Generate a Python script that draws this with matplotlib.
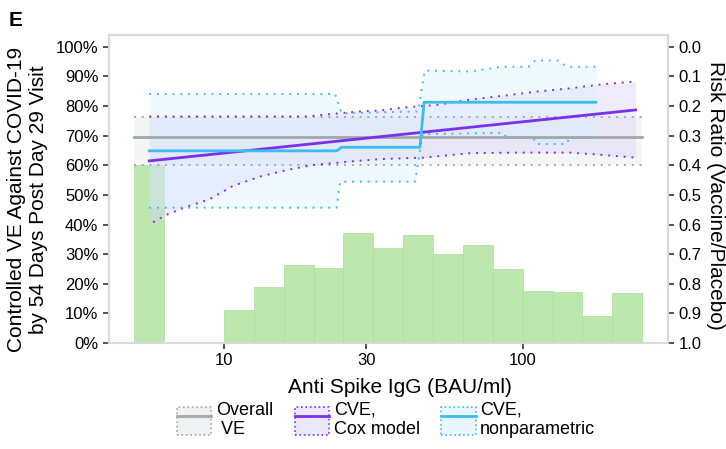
import matplotlib.pyplot as plt
import numpy as np
from matplotlib.patches import Patch
from matplotlib.lines import Line2D

plt.rcParams['font.family'] = ['Liberation Sans', 'DejaVu Sans']

# histogram of antibody levels (log10 bin edges, share of participants)
hist_lo = [0.7, 1.0, 1.1, 1.2, 1.3, 1.4, 1.5, 1.6, 1.7, 1.8, 1.9, 2.0, 2.1, 2.2, 2.3]
hist_pct = [0.60, 0.11, 0.19, 0.265, 0.255, 0.37, 0.32, 0.365, 0.30, 0.33, 0.25, 0.176, 0.172, 0.09, 0.17]
bin_w = 0.1

# overall VE with 95% CI
overall_x = [0.7, 2.4]
overall_ve = 0.695
overall_lo, overall_hi = 0.601, 0.764

# Cox model CVE curve and CI
cox_x = [0.75, 2.378]
cox_ve = [0.615, 0.787]
cox_hi_x = [0.75, 1.277, 1.366, 1.455, 1.522, 1.600, 1.712, 1.824, 1.935, 2.047, 2.158, 2.270, 2.378]
cox_hi = [0.765, 0.765, 0.774, 0.782, 0.785, 0.795, 0.804, 0.822, 0.835, 0.849, 0.860, 0.874, 0.883]
cox_lo_x = [0.763, 0.808, 0.869, 0.953, 1.031, 1.121, 1.210, 1.299, 1.411, 1.522, 1.667, 1.824, 1.991, 2.158, 2.270, 2.378]
cox_lo = [0.408, 0.433, 0.458, 0.486, 0.531, 0.562, 0.584, 0.601, 0.612, 0.621, 0.626, 0.641, 0.643, 0.643, 0.635, 0.626]

# nonparametric CVE and CI
np_x = [0.75, 1.377, 1.394, 1.656, 1.670, 2.245]
np_ve = [0.649, 0.649, 0.661, 0.661, 0.813, 0.813]
np_hi_x = [0.75, 1.372, 1.394, 1.650, 1.672, 1.824, 1.935, 2.020, 2.042, 2.120, 2.147, 2.245]
np_hi = [0.841, 0.841, 0.776, 0.782, 0.920, 0.917, 0.933, 0.933, 0.954, 0.954, 0.933, 0.933]
np_lo_x = [0.75, 1.377, 1.389, 1.640, 1.665, 1.935, 1.945, 2.035, 2.045, 2.147, 2.157, 2.245]
np_lo = [0.457, 0.457, 0.545, 0.545, 0.705, 0.71, 0.695, 0.695, 0.672, 0.672, 0.695, 0.695]

gray = '#9eaaa8'
purple = '#7b2ff0'
blue = '#3cbcf2'
green = '#bde8ad'
spine_c = '#d3dbdb'
dots = (0, (1, 3))

fig = plt.figure(figsize=(7.26, 4.49), dpi=100)
ax = fig.add_axes([0.150, 0.236, 0.770, 0.686])
ax.set_xscale('log')

lefts = np.power(10.0, hist_lo)
widths = np.power(10.0, np.array(hist_lo) + bin_w) - lefts
ax.bar(lefts, hist_pct, width=widths, align='edge', color=green, edgecolor='#acdd9a',
       linewidth=0.5, zorder=1)

ox = np.power(10.0, overall_x)
ax.fill_between(ox, overall_lo, overall_hi, color='#e8eded', alpha=0.45, lw=0, zorder=2)
ax.plot(ox, [overall_hi] * 2, ls=dots, color=gray, lw=1.4, zorder=3)
ax.plot(ox, [overall_lo] * 2, ls=dots, color=gray, lw=1.4, zorder=3)

# Cox band
fx = np.linspace(0.75, 2.378, 200)
up = np.interp(fx, cox_hi_x, cox_hi)
lo = np.interp(fx, cox_lo_x, cox_lo)
ax.fill_between(10 ** fx, lo, up, color='#d9d0fb', alpha=0.4, lw=0, zorder=2)
ax.plot(np.power(10.0, cox_hi_x), cox_hi, ls=dots, color=purple, lw=1.4, zorder=3)
ax.plot(np.power(10.0, cox_lo_x), cox_lo, ls=dots, color=purple, lw=1.4, zorder=3)

# nonparametric band
fx2 = np.linspace(0.75, 2.245, 400)
up2 = np.interp(fx2, np_hi_x, np_hi)
lo2 = np.interp(fx2, np_lo_x, np_lo)
ax.fill_between(10 ** fx2, lo2, up2, color='#d6effc', alpha=0.35, lw=0, zorder=2)
ax.plot(np.power(10.0, np_hi_x), np_hi, ls=dots, color=blue, lw=1.4, zorder=3)
ax.plot(np.power(10.0, np_lo_x), np_lo, ls=dots, color=blue, lw=1.4, zorder=3)

ax.plot(ox, [overall_ve] * 2, color=gray, lw=2, zorder=4)
ax.plot(np.power(10.0, cox_x), cox_ve, color=purple, lw=2, zorder=5)
ax.plot(np.power(10.0, np_x), np_ve, color=blue, lw=2, zorder=5)

ax.set_xlim(10 ** 0.615, 10 ** 2.486)
ax.set_ylim(0, 1.04)
ax.set_xticks([10, 30, 100])
ax.set_xticklabels(['10', '30', '100'])
ax.xaxis.set_minor_locator(plt.NullLocator())
ax.set_yticks(np.arange(0, 1.01, 0.1))
ax.set_yticklabels([f'{int(round(v * 100))}%' for v in np.arange(0, 1.01, 0.1)])
ax.tick_params(labelsize=12, length=4, width=1.2, color='#333333')
for s in ax.spines.values():
    s.set_color(spine_c)
    s.set_linewidth(1.5)

ax2 = ax.twinx()
ax2.set_ylim(1.0, -0.04)
ax2.set_yticks(np.arange(0, 1.01, 0.1))
ax2.set_yticklabels([f'{v:.1f}' for v in np.arange(0, 1.01, 0.1)])
ax2.tick_params(labelsize=12, length=4, width=1.2, color='#333333')
for s in ax2.spines.values():
    s.set_color(spine_c)
    s.set_linewidth(1.5)
ax2.set_ylabel('Risk Ratio (Vaccine/Placebo)', fontsize=15, rotation=270, va='center', ha='center')
ax2.yaxis.set_label_coords(1.086, 0.48)

ax.set_xlabel('Anti Spike IgG (BAU/ml)', fontsize=15)
ax.xaxis.set_label_coords(0.52, -0.115)
ax.set_ylabel('Controlled VE Against COVID-19\nby 54 Days Post Day 29 Visit', fontsize=15,
              va='center', ha='center')
ax.yaxis.set_label_coords(-0.146, 0.465)

fig.text(0.012, 0.975, 'E', fontsize=15, fontweight='bold', va='top')

handles = [
    (Patch(facecolor='#eef2f2', edgecolor=gray, linestyle=':', linewidth=1.2), Line2D([], [], color=gray, lw=2)),
    (Patch(facecolor='#ece8fb', edgecolor=purple, linestyle=':', linewidth=1.2), Line2D([], [], color=purple, lw=2)),
    (Patch(facecolor='#eaf6fd', edgecolor=blue, linestyle=':', linewidth=1.2), Line2D([], [], color=blue, lw=2)),
]
labels = ['Overall\n VE', 'CVE,\nCox model', 'CVE,\nnonparametric']
fig.legend(handles, labels, loc='center', bbox_to_anchor=(0.532, 0.065), ncol=3, frameon=False,
           fontsize=13, handlelength=1.9, handleheight=2.0, columnspacing=1.2, handletextpad=0.25,
           labelspacing=0.2)

fig.savefig('out.png', dpi=100)
